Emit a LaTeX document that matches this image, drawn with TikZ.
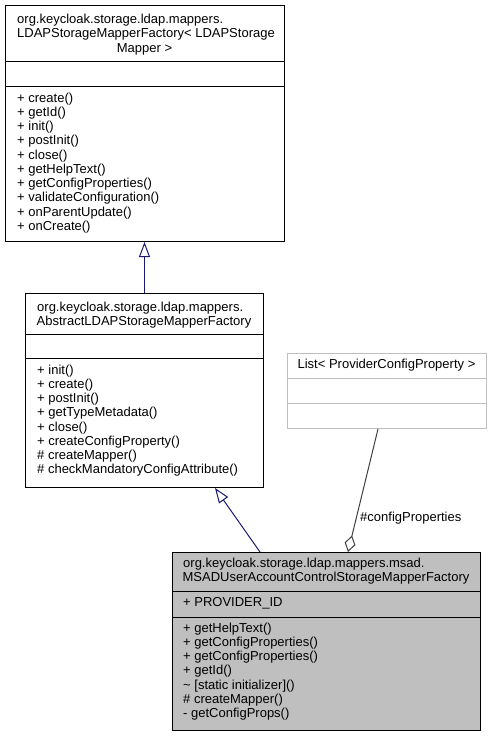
\documentclass[tikz,border=0pt]{standalone}
\usepackage{fontspec}
\setmainfont{Liberation Sans}
\usetikzlibrary{arrows.meta,calc}
\definecolor{edgeblue}{HTML}{191970}
\definecolor{edgegray}{HTML}{404040}
\definecolor{boxgray}{HTML}{BFBFBF}
\tikzset{
  classbox/.style={draw=black, fill=white, line width=1pt, inner sep=0pt, anchor=north west},
  focusbox/.style={classbox, fill=boxgray},
  extbox/.style={classbox, draw=boxgray},
  sepline/.style={draw=black, line width=1pt},
  extsep/.style={draw=boxgray, line width=1pt},
  txt/.style={font=\fontsize{13}{14.25}\selectfont, inner sep=0pt, anchor=base west},
  ctxt/.style={font=\fontsize{13}{14.25}\selectfont, inner sep=0pt, anchor=base},
  inh/.style={draw=edgeblue, line width=1pt, -{Triangle[open, length=15pt, width=11pt]}},
  agg/.style={draw=edgegray, line width=1pt, {Diamond[open, length=17pt, width=11pt]}-},
}
\begin{document}
\begin{tikzpicture}[x=1pt,y=-1pt]
\useasboundingbox (0,0) rectangle (492,736);

% Box 1: LDAPStorageMapperFactory
\node[classbox, minimum width=279pt, minimum height=236pt] (b1) at (5,5) {};
\draw[sepline] ($(b1.north west)+(0,56)$) -- ($(b1.north east)+(0,56)$);
\draw[sepline] ($(b1.north west)+(0,81)$) -- ($(b1.north east)+(0,81)$);
\node[txt] (b1t1) at (17,23.5) {org.keycloak.storage.ldap.mappers.};
\node[txt] (b1t2) at (17,37.75) {LDAPStorageMapperFactory< LDAPStorage};
\node[ctxt] (b1t3) at (144.5,52) {Mapper >};
\foreach \t [count=\i] in {+ create(), + getId(), + init(), + postInit(), + close(), + getHelpText(), + getConfigProperties(), + validateConfiguration(), + onParentUpdate(), + onCreate()}
  \node[txt] (b1m\i) at (17,{102+14.25*(\i-1)}) {\t};

% Box 2: AbstractLDAPStorageMapperFactory
\node[classbox, minimum width=238pt, minimum height=194pt] (b2) at (25,293) {};
\draw[sepline] ($(b2.north west)+(0,41)$) -- ($(b2.north east)+(0,41)$);
\draw[sepline] ($(b2.north west)+(0,65)$) -- ($(b2.north east)+(0,65)$);
\node[txt] (b2t1) at (37,311.5) {org.keycloak.storage.ldap.mappers.};
\node[ctxt] (b2t2) at (144,325.75) {AbstractLDAPStorageMapperFactory};
\foreach \t [count=\i] in {+ init(), + create(), + postInit(), + getTypeMetadata(), + close(), + createConfigProperty(), \# createMapper(), \# checkMandatoryConfigAttribute()}
  \node[txt] (b2m\i) at (37,{374+14.25*(\i-1)}) {\t};

% Box 4: List< ProviderConfigProperty >
\node[extbox, minimum width=199pt, minimum height=75pt] (b4) at (287,353) {};
\draw[extsep] ($(b4.north west)+(0,25)$) -- ($(b4.north east)+(0,25)$);
\draw[extsep] ($(b4.north west)+(0,50)$) -- ($(b4.north east)+(0,50)$);
\node[ctxt] (b4t1) at (386.5,368.5) {List< ProviderConfigProperty >};

% Box 3: MSADUserAccountControlStorageMapperFactory
\node[focusbox, minimum width=308pt, minimum height=178pt] (b3) at (172,552) {};
\draw[sepline] ($(b3.north west)+(0,39)$) -- ($(b3.north east)+(0,39)$);
\draw[sepline] ($(b3.north west)+(0,65)$) -- ($(b3.north east)+(0,65)$);
\node[txt] (b3t1) at (183,567) {org.keycloak.storage.ldap.mappers.msad.};
\node[ctxt] (b3t2) at (326,581.25) {MSADUserAccountControlStorageMapperFactory};
\node[txt] (b3a1) at (183,606) {+ PROVIDER\_ID};
\foreach \t [count=\i] in {+ getHelpText(), + getConfigProperties(), + getConfigProperties(), + getId(), {\textasciitilde{} [static initializer]()}, \# createMapper(), - getConfigProps()}
  \node[txt] (b3m\i) at (183,{632+14.25*(\i-1)}) {\t};

% Connectors
\draw[inh] (b2.north) -- (b2.north |- b1.south);
\draw[inh] ($(b3.north west)+(88,0)$) -- ($(b2.south west)+(190,0)$);
\draw[agg] ($(b3.north west)+(176,0)$) -- ($(b4.south west)+(91,0)$);
\node[txt] (lbl) at (360,521.5) {\#configProperties};
\end{tikzpicture}
\end{document}
